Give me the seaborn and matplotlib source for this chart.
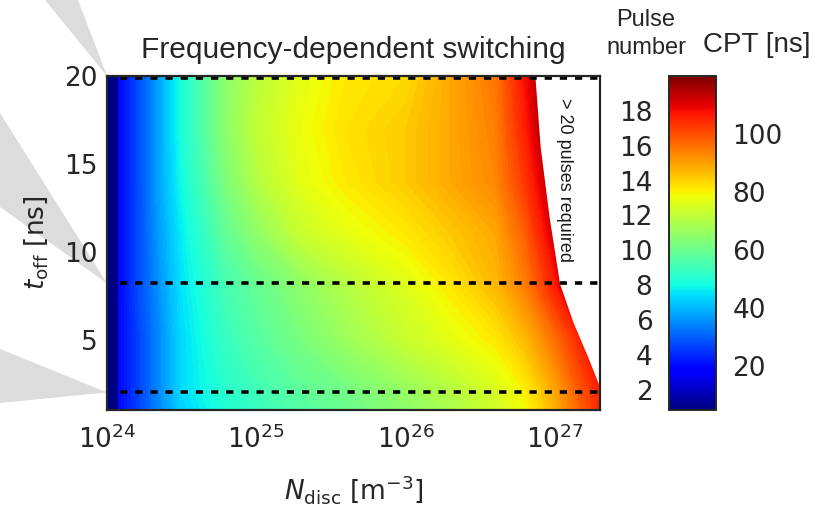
import numpy as np
import matplotlib
matplotlib.use("Agg")
import matplotlib.pyplot as plt
import seaborn as sns
from matplotlib.colors import Normalize
from matplotlib.patches import Polygon
from matplotlib.ticker import FixedLocator, FuncFormatter
import matplotlib.cm as cm

# Grid of discrete-charge densities (log10 of N_disc in m^-3) and off times (ns)
log_n_disc = [24.0, 24.07, 24.08, 24.2, 24.35, 24.5, 24.8, 25.0, 25.3,
              25.6, 26.0, 26.3, 26.6, 26.8, 27.0, 27.15, 27.31]
t_off = [1, 2, 5, 8, 11, 14, 17, 20]

# Cumulative pulse time (ns) on the grid above, one row per off time
cpt_ns = [
    [6, 6, 20, 26, 35, 43, 50, 53, 57, 60, 65, 69, 74, 79, 88, 97, 105],
    [6, 6, 20, 26, 35, 44, 51, 54, 58, 61, 66, 70, 75, 80, 89, 98, 106],
    [6, 6, 20, 26, 35, 44, 53, 57, 62, 67, 73, 77, 81, 87, 96, 104, 120],
    [6, 6, 20, 27, 36, 45, 55, 59, 65, 70, 76, 81, 87, 94, 106, 120, 120],
    [6, 6, 20, 27, 37, 46, 59, 65, 73, 77, 81, 85, 89, 98, 112, 120, 120],
    [6, 6, 20, 27, 38, 48, 63, 70, 77, 81, 85, 89, 93, 103, 116, 120, 120],
    [6, 6, 20, 27, 38, 49, 65, 72, 78, 82, 85, 89, 94, 106, 120, 120, 120],
    [6, 6, 20, 27, 38, 49, 65, 71, 77, 81, 83, 89, 95, 108, 120, 120, 120],
]

# Edge of the region where more than 20 pulses are needed
boundary_t = [20, 16, 12, 8.2, 6, 4, 2.5, 1]
boundary_log_n = [26.865, 26.90, 26.96, 27.03, 27.12, 27.22, 27.29, 27.31]

# Off times marked with dashed lines
marked_t = [19.9, 8.2, 2.0]

cpt_range = (5, 120)
pulse_period_ns = 6
cpt_ticks = [20, 40, 60, 80, 100]
pulse_ticks = [2, 4, 6, 8, 10, 12, 14, 16, 18]
decades = [24, 25, 26, 27]

sns.set_theme(style="ticks", rc={
    "axes.edgecolor": "#262626",
    "axes.linewidth": 1.6,
    "xtick.color": "#262626",
    "ytick.color": "#262626",
    "text.color": "#262626",
    "axes.labelcolor": "#262626",
})
plt.rcParams["font.family"] = ["DejaVu Sans"]
plt.rcParams["mathtext.fontset"] = "dejavusans"
SANS2 = ["Liberation Sans", "DejaVu Sans"]

fig = plt.figure(figsize=(8.18, 5.14), dpi=100)
ax = fig.add_axes([0.1308, 0.2023, 0.6027, 0.650])
cax = fig.add_axes([0.818, 0.2023, 0.057, 0.650])

cmap = matplotlib.colormaps["jet"]
norm = Normalize(*cpt_range)

# Density axis runs in decades (log10 N), labelled as powers of ten
X, T = np.meshgrid(log_n_disc, t_off)
levels = np.arange(cpt_range[0], cpt_range[1] + 0.5, 1.0)
ax.contourf(X, T, np.array(cpt_ns), levels=levels, cmap=cmap, norm=norm,
            extend="both", zorder=1)

x_min, x_max = 24.0, 27.301
ax.set_xlim(x_min, x_max)
ax.set_ylim(1, 20)
ax.xaxis.set_major_locator(FixedLocator(decades))
ax.xaxis.set_major_formatter(
    FuncFormatter(lambda v, p: r"$\mathdefault{10^{%d}}$" % int(round(v))))
minor = [k + np.log10(m) for k in decades for m in range(2, 10)
         if k + np.log10(m) < x_max]
ax.xaxis.set_minor_locator(FixedLocator(minor))

# Blank out the >20 pulse region
ax.fill_betweenx(boundary_t, boundary_log_n, x_max,
                 color="white", zorder=2, lw=0)
ax.text(27.06, 14.1, "> 20 pulses required", rotation=-90,
        ha="center", va="center", fontsize=13, zorder=3,
        family=SANS2, color="#1a1a1a")

ax.hlines(marked_t, 24.087, x_max, colors="black",
          linestyles=(0, (2, 2.2)), linewidth=2.6, zorder=3)

ax.set_yticks([5, 10, 15, 20])
ax.tick_params(which="both", direction="in", top=True, right=True,
               labelsize=19)
ax.tick_params(axis="y", pad=7)
ax.tick_params(axis="x", pad=11)
ax.tick_params(which="major", length=5, width=1.2)
ax.tick_params(which="minor", length=3, width=1.0)
ax.set_xlabel(r"$N_\mathrm{disc}$ [m$^{-3}$]", fontsize=19, labelpad=14)
ax.set_ylabel(r"$t_\mathrm{off}$ [ns]", fontsize=19, labelpad=10)
ax.set_title("Frequency-dependent switching", fontsize=21.5,
             family=SANS2, pad=13)
for sp in ax.spines.values():
    sp.set_zorder(4)

# Colour bar: CPT on the right, equivalent pulse number on the left
sm = cm.ScalarMappable(norm=norm, cmap=cmap)
cb = fig.colorbar(sm, cax=cax, ticks=cpt_ticks)
cb.outline.set_linewidth(1.4)
cb.outline.set_edgecolor("#262626")
cax.tick_params(direction="in", length=4, width=1.2, labelsize=19, pad=12)
sec = cax.secondary_yaxis("left", functions=(lambda c: c / pulse_period_ns,
                                              lambda p: p * pulse_period_ns))
sec.set_yticks(pulse_ticks)
sec.tick_params(direction="in", length=4, width=1.2, labelsize=19, pad=12)
sec.spines["left"].set_visible(False)

fig.text(646 / 818, 1 - 34 / 514, "Pulse\nnumber", ha="center", va="center",
         fontsize=17, family=SANS2, linespacing=1.3)
fig.text(757 / 818, 1 - 45 / 514, "CPT [ns]", ha="center", va="center",
         fontsize=20, family=SANS2)

# Grey guide wedges from the left margin to the marked off times
fig.canvas.draw()
to_fig = fig.transFigure.inverted()
apex = [to_fig.transform(ax.transData.transform((x_min, t))) for t in
        (20.0, marked_t[1], marked_t[2])]
wedges = [
    [(45 / 818, 1.0), (78 / 818, 1.0), tuple(apex[0])],
    [(0.0, 1 - 113 / 514), (0.0, 1 - 207 / 514), tuple(apex[1])],
    [(0.0, 1 - 349 / 514), (0.0, 1 - 403 / 514), tuple(apex[2])],
]
for w in wedges:
    fig.patches.append(Polygon(w, closed=True, transform=fig.transFigure,
                               facecolor="#dcdcdc", edgecolor="none",
                               zorder=-5))

fig.savefig("out.png", dpi=100)
